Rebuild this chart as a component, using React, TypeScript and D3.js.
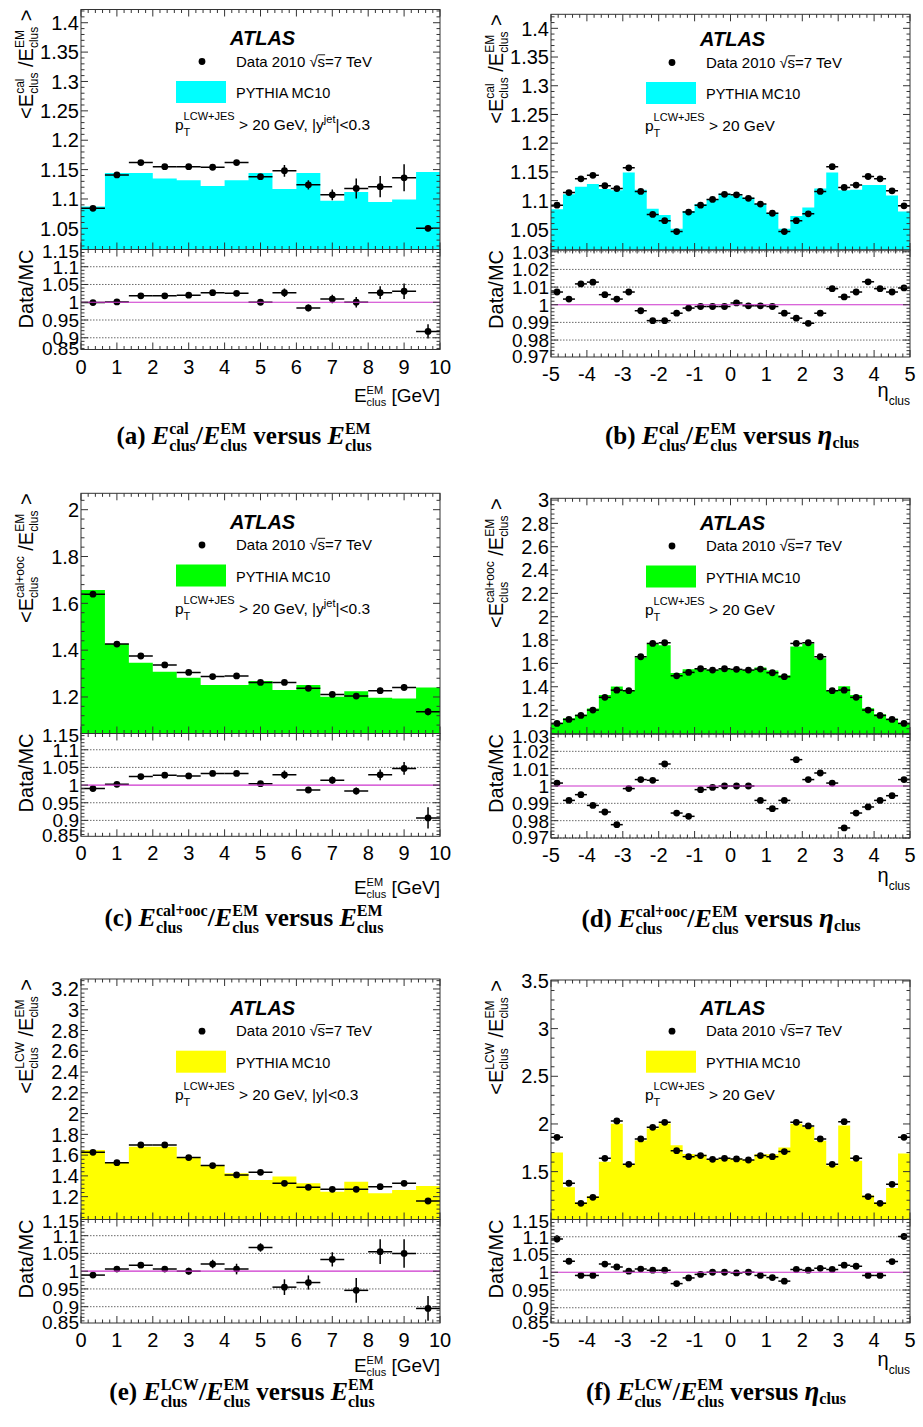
import React from 'react';
import * as d3 from 'd3';

const SANS = "'Liberation Sans', Arial, Helvetica, sans-serif";
const SERIF = "'Liberation Serif', 'Times New Roman', serif";

// ---------- binning / axis labels ----------
const E_NBINS = 15;
const ETA_NBINS = 30;
const E_TICKS = [0, 1, 2, 3, 4, 5, 6, 7, 8, 9, 10];
const ETA_TICKS = [-5, -4, -3, -2, -1, 0, 1, 2, 3, 4, 5];
const A_MAIN_TICKS = [1.05, 1.1, 1.15, 1.2, 1.25, 1.3, 1.35, 1.4];
const C_MAIN_TICKS = [1.2, 1.4, 1.6, 1.8, 2];
const D_MAIN_TICKS = [1.2, 1.4, 1.6, 1.8, 2, 2.2, 2.4, 2.6, 2.8, 3];
const E_MAIN_TICKS = [1.2, 1.4, 1.6, 1.8, 2, 2.2, 2.4, 2.6, 2.8, 3, 3.2];
const F_MAIN_TICKS = [1.5, 2, 2.5, 3, 3.5];
const RATIO_WIDE_TICKS = [0.85, 0.9, 0.95, 1, 1.05, 1.1, 1.15];
const RATIO_NARROW_TICKS = [0.97, 0.98, 0.99, 1, 1.01, 1.02, 1.03];

// ---------- (a) E_cal / E_EM vs E_EM ----------
const aData = [1.084, 1.141, 1.162, 1.155, 1.155, 1.154, 1.162, 1.138, 1.148, 1.124, 1.107, 1.118, 1.121, 1.136, 1.05];
const aDataErr = [0.002, 0.002, 0.002, 0.002, 0.002, 0.002, 0.003, 0.004, 0.01, 0.008, 0.009, 0.017, 0.018, 0.023, 0.005];
const aMC = [1.087, 1.144, 1.144, 1.135, 1.132, 1.122, 1.132, 1.144, 1.117, 1.144, 1.097, 1.112, 1.095, 1.099, 1.146];
const aRatio = [0.999, 1.001, 1.018, 1.018, 1.02, 1.027, 1.025, 1.0, 1.027, 0.984, 1.009, 1.0, 1.027, 1.031, 0.918];
const aRatioErr = [0.002, 0.002, 0.003, 0.003, 0.003, 0.003, 0.003, 0.003, 0.012, 0.01, 0.012, 0.015, 0.018, 0.022, 0.02];

// ---------- (b) E_cal / E_EM vs eta ----------
const bData = [1.092, 1.114, 1.138, 1.144, 1.126, 1.121, 1.157, 1.116, 1.076, 1.065, 1.046, 1.08, 1.092, 1.102, 1.111, 1.11, 1.104, 1.094, 1.078, 1.046, 1.065, 1.077, 1.116, 1.159, 1.123, 1.127, 1.142, 1.138, 1.117, 1.091];
const bDataErr = [0.002, 0.002, 0.002, 0.002, 0.002, 0.002, 0.002, 0.002, 0.002, 0.002, 0.002, 0.002, 0.002, 0.002, 0.002, 0.002, 0.002, 0.002, 0.002, 0.002, 0.002, 0.002, 0.002, 0.002, 0.002, 0.002, 0.002, 0.002, 0.002, 0.002];
const bMC = [1.085, 1.111, 1.124, 1.129, 1.12, 1.118, 1.149, 1.119, 1.086, 1.075, 1.051, 1.082, 1.094, 1.103, 1.112, 1.109, 1.105, 1.094, 1.079, 1.051, 1.073, 1.088, 1.121, 1.149, 1.118, 1.119, 1.127, 1.127, 1.109, 1.081];
const bRatio = [1.0072, 1.0032, 1.0118, 1.0128, 1.0057, 1.0032, 1.0072, 0.9966, 0.991, 0.991, 0.9952, 0.9981, 0.999, 0.999, 0.999, 1.001, 0.9994, 0.9994, 0.999, 0.9952, 0.9924, 0.9895, 0.9952, 1.0091, 1.0044, 1.0072, 1.013, 1.0091, 1.0072, 1.0095];
const bRatioErr = [0.001, 0.001, 0.001, 0.001, 0.001, 0.001, 0.001, 0.001, 0.001, 0.001, 0.001, 0.001, 0.001, 0.001, 0.001, 0.001, 0.001, 0.001, 0.001, 0.001, 0.001, 0.001, 0.001, 0.001, 0.001, 0.001, 0.001, 0.001, 0.001, 0.001];

// ---------- (c) E_cal+ooc / E_EM vs E_EM ----------
const cData = [1.639, 1.426, 1.375, 1.337, 1.305, 1.287, 1.29, 1.262, 1.262, 1.237, 1.211, 1.204, 1.227, 1.241, 1.137];
const cDataErr = [0.004, 0.003, 0.003, 0.003, 0.003, 0.003, 0.003, 0.004, 0.006, 0.008, 0.008, 0.01, 0.012, 0.014, 0.015];
const cMC = [1.657, 1.426, 1.346, 1.308, 1.282, 1.251, 1.251, 1.268, 1.23, 1.251, 1.201, 1.225, 1.197, 1.194, 1.241];
const cRatio = [0.99, 1.002, 1.024, 1.028, 1.026, 1.033, 1.033, 1.004, 1.029, 0.986, 1.014, 0.983, 1.029, 1.047, 0.907];
const cRatioErr = [0.004, 0.002, 0.002, 0.002, 0.002, 0.002, 0.002, 0.005, 0.012, 0.008, 0.01, 0.01, 0.015, 0.018, 0.03];

// ---------- (d) E_cal+ooc / E_EM vs eta ----------
const dData = [1.086, 1.12, 1.154, 1.2, 1.309, 1.371, 1.366, 1.657, 1.771, 1.777, 1.494, 1.523, 1.554, 1.543, 1.554, 1.549, 1.543, 1.551, 1.52, 1.486, 1.771, 1.777, 1.657, 1.366, 1.371, 1.309, 1.2, 1.154, 1.12, 1.086];
const dDataErr = [0.003, 0.003, 0.003, 0.003, 0.003, 0.003, 0.003, 0.003, 0.003, 0.003, 0.003, 0.003, 0.003, 0.003, 0.003, 0.003, 0.003, 0.003, 0.003, 0.003, 0.003, 0.003, 0.003, 0.003, 0.003, 0.003, 0.003, 0.003, 0.003, 0.003];
const dMC = [1.084, 1.129, 1.16, 1.214, 1.329, 1.403, 1.368, 1.651, 1.766, 1.755, 1.518, 1.55, 1.558, 1.544, 1.554, 1.549, 1.543, 1.564, 1.54, 1.498, 1.745, 1.771, 1.645, 1.363, 1.405, 1.329, 1.215, 1.164, 1.126, 1.082];
const dRatio = [1.0017, 0.9917, 0.995, 0.9888, 0.985, 0.9777, 0.9985, 1.0037, 1.0033, 1.0127, 0.9844, 0.9825, 0.9979, 0.9992, 1.0, 1.0, 1.0, 0.9917, 0.9869, 0.9917, 1.0152, 1.0037, 1.0075, 1.0017, 0.9758, 0.9844, 0.9879, 0.9917, 0.9944, 1.0037];
const dRatioErr = [0.001, 0.001, 0.001, 0.001, 0.001, 0.001, 0.001, 0.001, 0.001, 0.001, 0.001, 0.001, 0.001, 0.001, 0.001, 0.001, 0.001, 0.001, 0.001, 0.001, 0.001, 0.001, 0.001, 0.001, 0.001, 0.001, 0.001, 0.001, 0.001, 0.001];

// ---------- (e) E_LCW / E_EM vs E_EM ----------
const eData = [1.627, 1.527, 1.698, 1.698, 1.576, 1.499, 1.409, 1.434, 1.328, 1.29, 1.271, 1.271, 1.296, 1.328, 1.158];
const eDataErr = [0.005, 0.006, 0.006, 0.007, 0.008, 0.01, 0.012, 0.014, 0.016, 0.018, 0.02, 0.022, 0.024, 0.026, 0.028];
const eMC = [1.649, 1.527, 1.681, 1.681, 1.576, 1.505, 1.425, 1.36, 1.393, 1.328, 1.248, 1.344, 1.232, 1.264, 1.303];
const eRatio = [0.989, 1.006, 1.017, 1.006, 1.0, 1.02, 1.006, 1.067, 0.955, 0.968, 1.033, 0.946, 1.055, 1.05, 0.895];
const eRatioErr = [0.003, 0.005, 0.004, 0.007, 0.01, 0.012, 0.015, 0.012, 0.022, 0.02, 0.02, 0.035, 0.035, 0.04, 0.035];

// ---------- (f) E_LCW / E_EM vs eta ----------
const fData = [1.86, 1.378, 1.168, 1.231, 1.64, 2.031, 1.577, 1.843, 1.965, 2.017, 1.72, 1.657, 1.668, 1.629, 1.64, 1.633, 1.622, 1.668, 1.657, 1.71, 2.017, 1.979, 1.843, 1.577, 2.024, 1.64, 1.238, 1.168, 1.367, 1.86];
const fDataErr = [0.005, 0.004, 0.004, 0.004, 0.004, 0.004, 0.004, 0.004, 0.004, 0.004, 0.004, 0.004, 0.004, 0.004, 0.004, 0.004, 0.004, 0.004, 0.004, 0.004, 0.004, 0.004, 0.004, 0.004, 0.004, 0.004, 0.004, 0.004, 0.004, 0.005];
const fMC = [1.7, 1.337, 1.178, 1.242, 1.603, 2.001, 1.572, 1.827, 1.953, 2.005, 1.778, 1.684, 1.678, 1.629, 1.64, 1.636, 1.622, 1.682, 1.683, 1.754, 2.002, 1.967, 1.824, 1.565, 1.984, 1.613, 1.249, 1.178, 1.328, 1.689];
const fRatio = [1.094, 1.031, 0.991, 0.991, 1.023, 1.015, 1.003, 1.009, 1.006, 1.006, 0.968, 0.984, 0.994, 1.0, 1.0, 0.998, 1.0, 0.991, 0.985, 0.975, 1.008, 1.006, 1.011, 1.008, 1.02, 1.017, 0.991, 0.991, 1.03, 1.101];
const fRatioErr = [0.01, 0.005, 0.003, 0.003, 0.003, 0.003, 0.003, 0.003, 0.003, 0.003, 0.006, 0.004, 0.003, 0.003, 0.003, 0.003, 0.003, 0.003, 0.003, 0.003, 0.003, 0.003, 0.003, 0.003, 0.003, 0.003, 0.003, 0.003, 0.005, 0.01];

// ---------- text measuring ----------
let measureCtx: any = null;
function measure(t: string, size: number, family: string, bold = false, italic = false) {
  if (!measureCtx) {
    const c = document.createElement('canvas');
    measureCtx = c.getContext('2d');
  }
  if (!measureCtx) return t.length * size * 0.55;
  measureCtx.font = `${italic ? 'italic ' : ''}${bold ? 'bold ' : ''}${size}px ${family}`;
  return measureCtx.measureText(t).width;
}

type Seg = { t: string; size: number; italic?: boolean; bold?: boolean; shift?: number; stack?: boolean; over?: boolean };

function Rich({ x, y, segs, anchor = 'start', family, bold = false }: { x: number; y: number; segs: Seg[]; anchor?: string; family: string; bold?: boolean }) {
  let cx = 0;
  let prevStart = 0;
  let prevW = 0;
  const placed = segs.map((s) => {
    const w = measure(s.t, s.size, family, s.bold ?? bold, !!s.italic);
    let sx: number;
    if (s.stack) {
      sx = prevStart;
      prevW = Math.max(prevW, w);
      cx = prevStart + prevW;
    } else {
      sx = cx;
      cx += w;
      prevStart = sx;
      prevW = w;
    }
    return { ...s, sx, w };
  });
  const off = anchor === 'middle' ? -cx / 2 : anchor === 'end' ? -cx : 0;
  return (
    <g>
      {placed.map((s, i) => (
        <g key={i}>
          <text
            x={x + off + s.sx}
            y={y + (s.shift ?? 0)}
            fontFamily={family}
            fontSize={s.size}
            fontWeight={(s.bold ?? bold) ? 'bold' : 'normal'}
            fontStyle={s.italic ? 'italic' : 'normal'}
            style={{ whiteSpace: 'pre' }}
          >
            {s.t}
          </text>
          {s.over ? (
            <line
              x1={x + off + s.sx}
              x2={x + off + s.sx + s.w}
              y1={y + (s.shift ?? 0) - s.size * 0.78}
              y2={y + (s.shift ?? 0) - s.size * 0.78}
              stroke="#000"
              strokeWidth={0.9}
            />
          ) : null}
        </g>
      ))}
    </g>
  );
}

// ---------- panel config ----------
type Layout = {
  x0: number; x1: number; yTop: number; yMid: number; yBot: number;
  mainDomain: [number, number]; ratioDomain: [number, number];
  legY: number; capX: number; capY: number; xTitleY: number;
};
type PanelCfg = {
  id: string; kind: 'E' | 'eta'; color: string; sup: string; cut: 'jet' | 'y' | 'none';
  data: number[]; dataErr: number[]; mc: number[]; ratio: number[]; ratioErr: number[];
  mainTicks: number[]; mainMinor: number; ratioTicks: number[]; ratioMinor: number;
  L: Layout;
};

const CYAN = '#00ffff';
const GREEN = '#00ff00';
const YELLOW = '#ffff00';

const PANELS: PanelCfg[] = [
  {
    id: 'a', kind: 'E', color: CYAN, sup: 'cal', cut: 'jet',
    data: aData, dataErr: aDataErr, mc: aMC, ratio: aRatio, ratioErr: aRatioErr,
    mainTicks: A_MAIN_TICKS, mainMinor: 0.01, ratioTicks: RATIO_WIDE_TICKS, ratioMinor: 0.01,
    L: { x0: 81, x1: 440, yTop: 9.5, yMid: 249.5, yBot: 349.5, mainDomain: [1.014, 1.4225], ratioDomain: [0.867, 1.1485], legY: 37, capX: 244, capY: 444, xTitleY: 402 },
  },
  {
    id: 'b', kind: 'eta', color: CYAN, sup: 'cal', cut: 'none',
    data: bData, dataErr: bDataErr, mc: bMC, ratio: bRatio, ratioErr: bRatioErr,
    mainTicks: A_MAIN_TICKS, mainMinor: 0.01, ratioTicks: RATIO_NARROW_TICKS, ratioMinor: 0.002,
    L: { x0: 551, x1: 910, yTop: 14.3, yMid: 250, yBot: 357, mainDomain: [1.014, 1.4244], ratioDomain: [0.9704, 1.031], legY: 38, capX: 732, capY: 444, xTitleY: 397 },
  },
  {
    id: 'c', kind: 'E', color: GREEN, sup: 'cal+ooc', cut: 'jet',
    data: cData, dataErr: cDataErr, mc: cMC, ratio: cRatio, ratioErr: cRatioErr,
    mainTicks: C_MAIN_TICKS, mainMinor: 0.04, ratioTicks: RATIO_WIDE_TICKS, ratioMinor: 0.01,
    L: { x0: 81, x1: 440, yTop: 493.3, yMid: 733.5, yBot: 836.3, mainDomain: [1.044, 2.07], ratioDomain: [0.855, 1.146], legY: 520.5, capX: 244, capY: 926, xTitleY: 894 },
  },
  {
    id: 'd', kind: 'eta', color: GREEN, sup: 'cal+ooc', cut: 'none',
    data: dData, dataErr: dDataErr, mc: dMC, ratio: dRatio, ratioErr: dRatioErr,
    mainTicks: D_MAIN_TICKS, mainMinor: 0.04, ratioTicks: RATIO_NARROW_TICKS, ratioMinor: 0.002,
    L: { x0: 551, x1: 910, yTop: 498.3, yMid: 734, yBot: 838, mainDomain: [0.995, 3.015], ratioDomain: [0.97, 1.03], legY: 521.5, capX: 721, capY: 927, xTitleY: 882 },
  },
  {
    id: 'e', kind: 'E', color: YELLOW, sup: 'LCW', cut: 'y',
    data: eData, dataErr: eDataErr, mc: eMC, ratio: eRatio, ratioErr: eRatioErr,
    mainTicks: E_MAIN_TICKS, mainMinor: 0.04, ratioTicks: RATIO_WIDE_TICKS, ratioMinor: 0.01,
    L: { x0: 81, x1: 440, yTop: 979, yMid: 1219.5, yBot: 1323, mainDomain: [0.98, 3.296], ratioDomain: [0.854, 1.1456], legY: 1006.7, capX: 242, capY: 1400, xTitleY: 1372 },
  },
  {
    id: 'f', kind: 'eta', color: YELLOW, sup: 'LCW', cut: 'none',
    data: fData, dataErr: fDataErr, mc: fMC, ratio: fRatio, ratioErr: fRatioErr,
    mainTicks: F_MAIN_TICKS, mainMinor: 0.1, ratioTicks: RATIO_WIDE_TICKS, ratioMinor: 0.01,
    L: { x0: 551, x1: 910, yTop: 980, yMid: 1219.5, yBot: 1323, mainDomain: [0.998, 3.51], ratioDomain: [0.857, 1.1487], legY: 1006.7, capX: 716, capY: 1400, xTitleY: 1366 },
  },
];

const fmt = (v: number) => String(+v.toFixed(3));

function minorTicks(dom: [number, number], step: number, majors: number[]) {
  const lo = Math.min(dom[0], dom[1]);
  const hi = Math.max(dom[0], dom[1]);
  const start = Math.ceil(lo / step - 1e-6) * step;
  const out: number[] = [];
  for (let v = start; v <= hi + 1e-9; v += step) {
    const r = +v.toFixed(6);
    if (!majors.some((m) => Math.abs(m - r) < step * 0.01)) out.push(r);
  }
  return out;
}

const FRAME = '#333';
const MAGENTA = '#cc33cc';

function Panel({ p }: { p: PanelCfg }) {
  const L = p.L;
  const isE = p.kind === 'E';
  const nb = isE ? E_NBINS : ETA_NBINS;
  const xDom: [number, number] = isE ? [0, 10] : [-5, 5];
  const edges = d3.range(nb + 1).map((i) => xDom[0] + (i * (xDom[1] - xDom[0])) / nb);
  const x = d3.scaleLinear().domain(xDom).range([L.x0, L.x1]);
  const ym = d3.scaleLinear().domain(L.mainDomain).range([L.yMid, L.yTop]);
  const yr = d3.scaleLinear().domain(L.ratioDomain).range([L.yBot, L.yMid]);

  const histPts: [number, number][] = p.mc.map((v, i) => [edges[i], v] as [number, number]);
  histPts.push([edges[nb], p.mc[nb - 1]]);
  const area = d3
    .area<[number, number]>()
    .x((d) => x(d[0]))
    .y0(L.yMid)
    .y1((d) => ym(d[1]))
    .curve(d3.curveStepAfter);

  const xMajor = isE ? E_TICKS : ETA_TICKS;
  const xMinor = minorTicks(xDom, 0.2, xMajor);
  const mainMaj = p.mainTicks.filter((v) => v >= L.mainDomain[0] && v <= L.mainDomain[1]);
  const mainMin = minorTicks(L.mainDomain, p.mainMinor, mainMaj);
  const ratMaj = p.ratioTicks.filter((v) => v >= L.ratioDomain[0] && v <= L.ratioDomain[1]);
  const ratMin = minorTicks(L.ratioDomain, p.ratioMinor, ratMaj);

  const clipMain = `clip-main-${p.id}`;
  const clipRat = `clip-rat-${p.id}`;
  const mainH = L.yMid - L.yTop;
  const ratH = L.yBot - L.yMid;

  const tick = (key: string, x1: number, y1: number, x2: number, y2: number) => (
    <line key={key} x1={x1} y1={y1} x2={x2} y2={y2} stroke={FRAME} strokeWidth={1} />
  );

  const xTicks = (yT: number, yB: number, tag: string) => [
    ...xMajor.map((v) => tick(`${tag}xt${v}`, x(v), yT, x(v), yT + 7)),
    ...xMajor.map((v) => tick(`${tag}xb${v}`, x(v), yB, x(v), yB - 7)),
    ...xMinor.map((v) => tick(`${tag}xtm${v}`, x(v), yT, x(v), yT + 3.5)),
    ...xMinor.map((v) => tick(`${tag}xbm${v}`, x(v), yB, x(v), yB - 3.5)),
  ];
  const yTicks = (sc: any, maj: number[], min: number[], tag: string) => [
    ...maj.map((v) => tick(`${tag}yl${v}`, L.x0, sc(v), L.x0 + 7, sc(v))),
    ...maj.map((v) => tick(`${tag}yr${v}`, L.x1, sc(v), L.x1 - 7, sc(v))),
    ...min.map((v) => tick(`${tag}ylm${v}`, L.x0, sc(v), L.x0 + 3.5, sc(v))),
    ...min.map((v) => tick(`${tag}yrm${v}`, L.x1, sc(v), L.x1 - 3.5, sc(v))),
  ];

  const points = (vals: number[], errs: number[], sc: any, tag: string) =>
    vals.map((v, i) => {
      const cx = x((edges[i] + edges[i + 1]) / 2);
      const cy = sc(v);
      return (
        <g key={`${tag}${i}`}>
          <line x1={x(edges[i])} x2={x(edges[i + 1])} y1={cy} y2={cy} stroke="#000" strokeWidth={1.5} />
          <line x1={cx} x2={cx} y1={sc(v - errs[i])} y2={sc(v + errs[i])} stroke="#000" strokeWidth={1.5} />
          <circle cx={cx} cy={cy} r={3.4} fill="#000" />
        </g>
      );
    });

  const lg = L.legY;
  const supSegs: Seg[] = [
    { t: '<E', size: 20 },
    { t: p.sup, size: 12, shift: -9 },
    { t: 'clus', size: 12, shift: 5, stack: true },
    { t: ' /E', size: 20 },
    { t: 'EM', size: 12, shift: -9 },
    { t: 'clus', size: 12, shift: 5, stack: true },
    { t: ' >', size: 20 },
  ];

  const cutSegs: Seg[] =
    p.cut === 'jet'
      ? [{ t: ' > 20 GeV, |y', size: 15.5 }, { t: 'jet', size: 11, shift: -7 }, { t: '|<0.3', size: 15.5 }]
      : p.cut === 'y'
      ? [{ t: ' > 20 GeV, |y|<0.3', size: 15.5 }]
      : [{ t: ' > 20 GeV', size: 15.5 }];

  const capSegs: Seg[] = [
    { t: `(${p.id}) `, size: 25 },
    { t: 'E', size: 26, italic: true },
    { t: p.sup, size: 16, shift: -10 },
    { t: 'clus', size: 16, shift: 7, stack: true },
    { t: '/', size: 26 },
    { t: 'E', size: 26, italic: true },
    { t: 'EM', size: 16, shift: -10 },
    { t: 'clus', size: 16, shift: 7, stack: true },
    { t: ' versus ', size: 25 },
    ...(isE
      ? [
          { t: 'E', size: 26, italic: true },
          { t: 'EM', size: 16, shift: -10 },
          { t: 'clus', size: 16, shift: 7, stack: true },
        ]
      : [
          { t: 'η', size: 27, italic: true },
          { t: 'clus', size: 16, shift: 4 },
        ]),
  ];

  return (
    <g>
      <defs>
        <clipPath id={clipMain}>
          <rect x={L.x0} y={L.yTop} width={L.x1 - L.x0} height={mainH} />
        </clipPath>
        <clipPath id={clipRat}>
          <rect x={L.x0} y={L.yMid} width={L.x1 - L.x0} height={ratH} />
        </clipPath>
      </defs>

      {/* main pad */}
      <rect x={L.x0} y={L.yTop} width={L.x1 - L.x0} height={mainH} fill="#fff" />
      <path d={area(histPts) ?? ''} fill={p.color} stroke="none" clipPath={`url(#${clipMain})`} />

      {/* legend */}
      <text x={L.x0 + 149} y={lg + 8} fontFamily={SANS} fontSize={20} fontWeight="bold" fontStyle="italic">ATLAS</text>
      <circle cx={L.x0 + 121} cy={lg + 24.5} r={3.4} fill="#000" />
      <Rich
        x={L.x0 + 155}
        y={lg + 29.5}
        family={SANS}
        segs={[
          { t: 'Data 2010 ', size: 15 },
          { t: '√', size: 15 },
          { t: 's', size: 15, over: true },
          { t: '=7 TeV', size: 15 },
        ]}
      />
      <rect x={L.x0 + 95} y={lg + 44} width={50} height={22} fill={p.color} />
      <Rich x={L.x0 + 155} y={lg + 61} family={SANS} segs={[{ t: 'PYTHIA MC10', size: 14.5 }]} />
      <Rich
        x={L.x0 + 94}
        y={lg + 93}
        family={SANS}
        segs={[
          { t: 'p', size: 15.5 },
          { t: 'LCW+JES', size: 11, shift: -10 },
          { t: 'T', size: 11, shift: 6, stack: true },
          ...cutSegs,
        ]}
      />

      <g clipPath={`url(#${clipMain})`}>{points(p.data, p.dataErr, ym, 'm')}</g>
      {xTicks(L.yTop, L.yMid, 'm')}
      {yTicks(ym, mainMaj, mainMin, 'm')}
      <rect x={L.x0} y={L.yTop} width={L.x1 - L.x0} height={mainH} fill="none" stroke={FRAME} strokeWidth={1} />

      {/* ratio pad */}
      <g>
        {ratMaj
          .filter((v) => v !== 1)
          .map((v) => (
            <line key={`g${v}`} x1={L.x0} x2={L.x1} y1={yr(v)} y2={yr(v)} stroke="#444" strokeWidth={0.8} strokeDasharray="1.5,1.5" />
          ))}
        <g clipPath={`url(#${clipRat})`}>{points(p.ratio, p.ratioErr, yr, 'r')}</g>
        <line x1={L.x0} x2={L.x1} y1={yr(1)} y2={yr(1)} stroke={MAGENTA} strokeWidth={1.2} />
        {xTicks(L.yMid, L.yBot, 'r')}
        {yTicks(yr, ratMaj, ratMin, 'r')}
        <rect x={L.x0} y={L.yMid} width={L.x1 - L.x0} height={ratH} fill="none" stroke={FRAME} strokeWidth={1} />
      </g>

      {/* y tick labels */}
      {mainMaj.map((v) => (
        <text key={`ml${v}`} x={L.x0 - 2} y={ym(v)} dy="0.36em" textAnchor="end" fontFamily={SANS} fontSize={20}>
          {fmt(v)}
        </text>
      ))}
      {p.ratioTicks.map((v) => {
        const yy = Math.min(Math.max(yr(v), L.yMid + 2), L.yBot - 1);
        return (
          <text key={`rl${v}`} x={L.x0 - 2} y={yy} dy="0.36em" textAnchor="end" fontFamily={SANS} fontSize={19}>
            {fmt(v)}
          </text>
        );
      })}

      {/* x tick labels */}
      {xMajor.map((v) => (
        <text key={`xl${v}`} x={x(v)} y={L.yBot + 24} textAnchor="middle" fontFamily={SANS} fontSize={20}>
          {fmt(v)}
        </text>
      ))}

      {/* axis titles */}
      {isE ? (
        <Rich
          x={L.x1}
          y={L.xTitleY}
          anchor="end"
          family={SANS}
          segs={[
            { t: 'E', size: 19 },
            { t: 'EM', size: 11, shift: -8 },
            { t: 'clus', size: 11, shift: 4, stack: true },
            { t: ' [GeV]', size: 19 },
          ]}
        />
      ) : (
        <Rich
          x={L.x1}
          y={L.xTitleY}
          anchor="end"
          family={SANS}
          segs={[
            { t: 'η', size: 20 },
            { t: 'clus', size: 12, shift: 8 },
          ]}
        />
      )}
      <g transform={`translate(${L.x0 - 48},${L.yTop}) rotate(-90)`}>
        <Rich x={0} y={0} anchor="end" family={SANS} segs={supSegs} />
      </g>
      <g transform={`translate(${L.x0 - 48},${L.yMid}) rotate(-90)`}>
        <Rich x={0} y={0} anchor="end" family={SANS} segs={[{ t: 'Data/MC', size: 20 }]} />
      </g>

      {/* caption */}
      <Rich x={L.capX} y={L.capY} anchor="middle" family={SERIF} bold segs={capSegs} />
    </g>
  );
}

export default function App() {
  return (
    <svg
      width={923}
      height={1427}
      viewBox="0 0 923 1427"
      style={{ position: 'absolute', left: 0, top: 0, background: '#fff' }}
    >
      <rect x={0} y={0} width={923} height={1427} fill="#fff" />
      {PANELS.map((p) => (
        <Panel key={p.id} p={p} />
      ))}
    </svg>
  );
}
